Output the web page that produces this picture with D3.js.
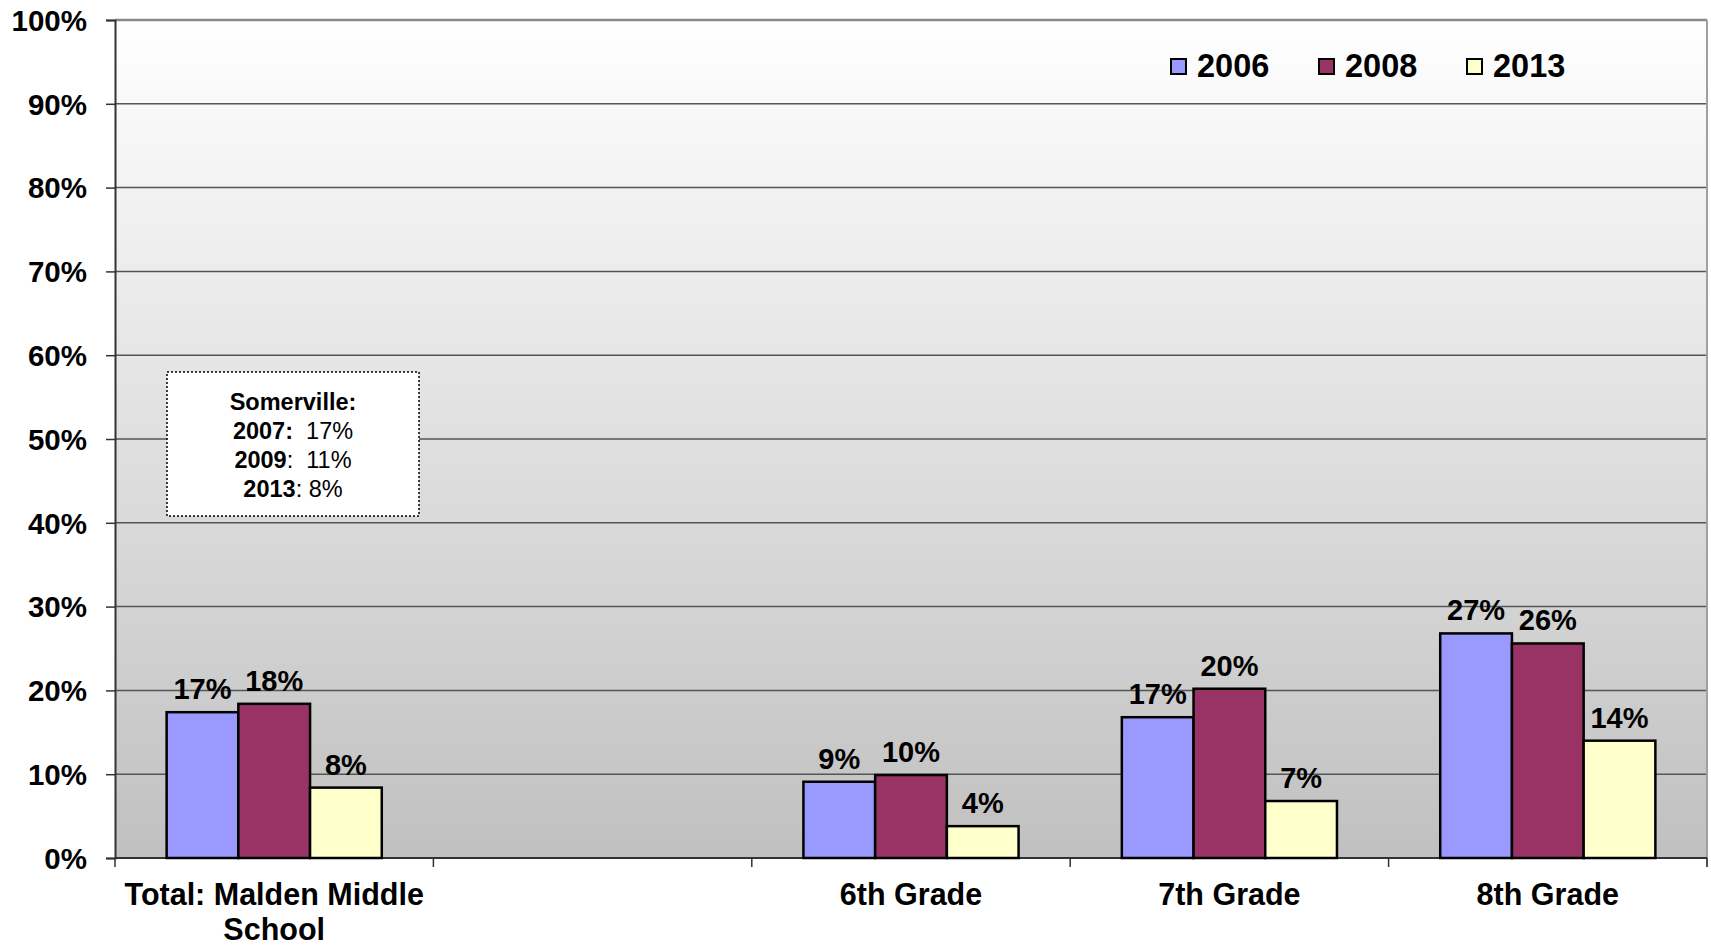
<!DOCTYPE html>
<html>
<head>
<meta charset="utf-8">
<script src="https://cdn.jsdelivr.net/npm/d3@7"></script>
<style>
    body { margin: 0; background: #fff; }
    svg { display: block; font-family: "Liberation Sans", Arial, sans-serif; }
</style>
</head>
<body>
<div id="chart"></div>
<script>
var categories = ["Total: Malden Middle|School", "", "6th Grade", "7th Grade", "8th Grade"]
var seriesNames = ["2006", "2008", "2013"]
var seriesColors = ["#9999ff", "#993366", "#ffffcc"]
var values2006 = [17.4, null, 9.1, 16.8, 26.8]
var values2008 = [18.4, null, 9.9, 20.2, 25.6]
var values2013 = [8.4, null, 3.8, 6.8, 14.0]
var yTicks = [0, 10, 20, 30, 40, 50, 60, 70, 80, 90, 100]
var noteLines = [
    [["Somerville:", true]],
    [["2007:", true], ["  17%", false]],
    [["2009", true], [":  11%", false]],
    [["2013", true], [": 8%", false]]
]

var width = 1711, height = 945
var plot = { left: 115, top: 20, right: 1707, bottom: 858 }

var svg = d3.select("#chart").append("svg")
    .attr("width", width)
    .attr("height", height)

var defs = svg.append("defs")
var grad = defs.append("linearGradient")
    .attr("id", "bg")
    .attr("x1", 0).attr("y1", 0).attr("x2", 0).attr("y2", 1)
grad.append("stop").attr("offset", "0%").attr("stop-color", "#ffffff")
grad.append("stop").attr("offset", "100%").attr("stop-color", "#c0c0c0")

var x0 = d3.scaleBand()
    .domain(d3.range(categories.length))
    .range([plot.left, plot.right])
    .paddingInner(0).paddingOuter(0)

var x1 = d3.scaleBand()
    .domain(seriesNames)
    .range([0, x0.bandwidth()])
    .paddingInner(0).paddingOuter(0.72)

var y = d3.scaleLinear()
    .domain([0, 100])
    .range([plot.bottom, plot.top])

// plot background
svg.append("rect")
    .attr("x", plot.left)
    .attr("y", plot.top)
    .attr("width", plot.right - plot.left)
    .attr("height", plot.bottom - plot.top)
    .attr("fill", "url(#bg)")

// gridlines
svg.append("g").selectAll("line")
    .data(yTicks.filter(function (d) { return d > 0 && d < 100 }))
    .enter().append("line")
    .attr("x1", plot.left).attr("x2", plot.right)
    .attr("y1", function (d) { return y(d) })
    .attr("y2", function (d) { return y(d) })
    .attr("stroke", "#555")
    .attr("stroke-width", 1.5)

// top + right border
svg.append("line")
    .attr("x1", plot.left).attr("x2", plot.right)
    .attr("y1", y(100)).attr("y2", y(100))
    .attr("stroke", "#8a8a8a").attr("stroke-width", 2.5)
svg.append("line")
    .attr("x1", plot.right).attr("x2", plot.right)
    .attr("y1", plot.top).attr("y2", plot.bottom + 9)
    .attr("stroke", "#a0a0a0").attr("stroke-width", 2)

// y axis
var yAxis = d3.axisLeft(y)
    .tickValues(yTicks)
    .tickSize(9)
    .tickPadding(19)
    .tickFormat(function (d) { return d + "%" })

var yG = svg.append("g")
    .attr("transform", "translate(" + plot.left + ",0)")
    .call(yAxis)
yG.select(".domain").attr("stroke", "#333").attr("stroke-width", 2)
yG.selectAll(".tick line").attr("stroke", "#333").attr("stroke-width", 1.5)
yG.selectAll(".tick text")
    .attr("font-size", 29.5)
    .attr("font-weight", "bold")
    .attr("fill", "#000")
    .attr("dy", "0.35em")

// x axis, ticks sit on the category boundaries
var bounds = d3.range(categories.length + 1).map(function (i) {
    return i < categories.length ? x0(i) : x0(i - 1) + x0.bandwidth()
})
svg.append("line")
    .attr("x1", plot.left).attr("x2", plot.right)
    .attr("y1", plot.bottom).attr("y2", plot.bottom)
    .attr("stroke", "#333").attr("stroke-width", 2)
svg.append("g").selectAll("line")
    .data(bounds)
    .enter().append("line")
    .attr("x1", function (d) { return d })
    .attr("x2", function (d) { return d })
    .attr("y1", plot.bottom)
    .attr("y2", plot.bottom + 9)
    .attr("stroke", "#333")
    .attr("stroke-width", 1.5)

var catLabels = svg.append("g").selectAll("text")
    .data(categories)
    .enter().append("text")
    .attr("text-anchor", "middle")
    .attr("font-size", 30.5)
    .attr("font-weight", "bold")
    .attr("fill", "#000")
catLabels.each(function (d, i) {
    var lines = d.split("|")
    var t = d3.select(this)
    lines.forEach(function (l, j) {
        t.append("tspan")
            .attr("x", x0(i) + x0.bandwidth() / 2)
            .attr("y", 905 + j * 35)
            .text(l)
    })
})

// bars
var allSeries = [values2006, values2008, values2013]
var rows = []
categories.forEach(function (c, i) {
    seriesNames.forEach(function (s, k) {
        var v = allSeries[k][i]
        if (v !== null) rows.push({ cat: i, series: s, k: k, value: v })
    })
})

svg.append("g").selectAll("rect")
    .data(rows)
    .enter().append("rect")
    .attr("x", function (d) { return x0(d.cat) + x1(d.series) })
    .attr("y", function (d) { return y(d.value) })
    .attr("width", x1.bandwidth())
    .attr("height", function (d) { return y(0) - y(d.value) })
    .attr("fill", function (d) { return seriesColors[d.k] })
    .attr("stroke", "#000")
    .attr("stroke-width", 2.5)

svg.append("g").selectAll("text")
    .data(rows)
    .enter().append("text")
    .attr("x", function (d) { return x0(d.cat) + x1(d.series) + x1.bandwidth() / 2 })
    .attr("y", function (d) { return y(d.value) - 13 })
    .attr("text-anchor", "middle")
    .attr("font-size", 29)
    .attr("font-weight", "bold")
    .attr("fill", "#000")
    .text(function (d) { return Math.round(d.value) + "%" })

// legend
var legend = svg.append("g")
var legX = [1171, 1319, 1467]
seriesNames.forEach(function (s, k) {
    legend.append("rect")
        .attr("x", legX[k]).attr("y", 59)
        .attr("width", 15).attr("height", 15)
        .attr("fill", seriesColors[k])
        .attr("stroke", "#000").attr("stroke-width", 2)
    legend.append("text")
        .attr("x", legX[k] + 26).attr("y", 77)
        .attr("font-size", 32.5)
        .attr("font-weight", "bold")
        .attr("fill", "#000")
        .text(s)
})

// Somerville note box
var box = svg.append("g")
box.append("rect")
    .attr("x", 167).attr("y", 372)
    .attr("width", 252).attr("height", 144)
    .attr("fill", "#fff")
    .attr("stroke", "#000")
    .attr("stroke-width", 1.5)
    .attr("stroke-dasharray", "2,2")
noteLines.forEach(function (parts, j) {
    var t = box.append("text")
        .attr("x", 293).attr("y", 410 + j * 29)
        .attr("text-anchor", "middle")
        .attr("font-size", 23.5)
        .attr("fill", "#000")
        .attr("xml:space", "preserve")
        .style("white-space", "pre")
    parts.forEach(function (p) {
        t.append("tspan")
            .attr("font-weight", p[1] ? "bold" : "normal")
            .text(p[0])
    })
})
</script>
</body>
</html>
